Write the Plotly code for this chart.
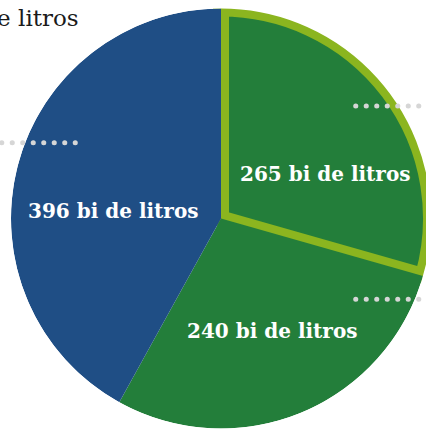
import plotly.graph_objects as go

# ---- data ----
categories = ["Fatia destacada", "Fatia verde", "Fatia azul"]
label_values = [265, 240, 396]          # values printed on the slices
slice_sizes = [265, 258, 378]           # slice sizes as drawn in the picture
unit_text = "bi de litros"
top_text = "bi de litros"

# ---- style ----
slice_colors = ["#237E3A", "#237E3A", "#1F4E85"]
outline_color = "#8BB51F"
dot_color = "#D6D6D6"
FONT = "DejaVu Serif"

W, H = 440, 440
cx, cy, R = 221, 218.5, 210


def px(x):
    return x / W


def py(y):
    return 1 - y / H


fig = go.Figure()

fig.add_trace(go.Pie(
    labels=categories, values=slice_sizes, sort=False,
    direction="clockwise", rotation=0,
    marker=dict(colors=slice_colors,
                line=dict(color=[outline_color, "rgba(0,0,0,0)", "rgba(0,0,0,0)"],
                          width=[16, 0, 0])),
    textinfo="none", hoverinfo="label+value", showlegend=False,
    domain=dict(x=[px(cx - R), px(cx + R)], y=[py(cy + R), py(cy - R)]),
))

# white ring hiding the outer half of the outline stroke
fig.add_trace(go.Pie(
    labels=["borda"], values=[1], sort=False,
    marker=dict(colors=["rgba(0,0,0,0)"], line=dict(color="white", width=12)),
    textinfo="none", hoverinfo="skip", showlegend=False,
    domain=dict(x=[px(cx - R - 6), px(cx + R + 6)], y=[py(cy + R + 6), py(cy - R - 6)]),
))

label_pos = [(325, 174), (272, 331), (113, 211)]
annotations = []
for v, (x, y) in zip(label_values, label_pos):
    annotations.append(dict(
        x=px(x), y=py(y), xref="paper", yref="paper", showarrow=False,
        xanchor="center", yanchor="middle",
        text=f"{v} {unit_text}",
        font=dict(family=FONT, size=20, color="white", weight=700),
    ))

annotations.append(dict(
    x=px(81), y=py(18), xref="paper", yref="paper", showarrow=False,
    xanchor="right", yanchor="middle", text=top_text,
    font=dict(family=FONT, size=23, color="#1A1A1A"),
))

shapes = []
for (x0, x1, y) in [(1.7, 79, 142.7), (355.7, 440, 106), (355.7, 440, 299.3)]:
    shapes.append(dict(
        type="line", xref="paper", yref="paper",
        x0=px(x0), x1=px(x1), y0=py(y), y1=py(y),
        line=dict(color=dot_color, width=5, dash="0.1px,10.4px"),
    ))

fig.update_layout(
    width=W, height=H, margin=dict(l=0, r=0, t=0, b=0),
    paper_bgcolor="white", plot_bgcolor="white", showlegend=False,
    annotations=annotations, shapes=shapes,
)

fig.write_html(
    "out.html",
    config={"displayModeBar": False},
    post_script=(
        "document.body.style.margin='0';document.body.style.overflow='hidden';"
        "document.documentElement.style.overflow='hidden';"
        "document.querySelectorAll('.shapelayer path').forEach(function(p){"
        "p.style.strokeLinecap='round';});"
    ),
)
